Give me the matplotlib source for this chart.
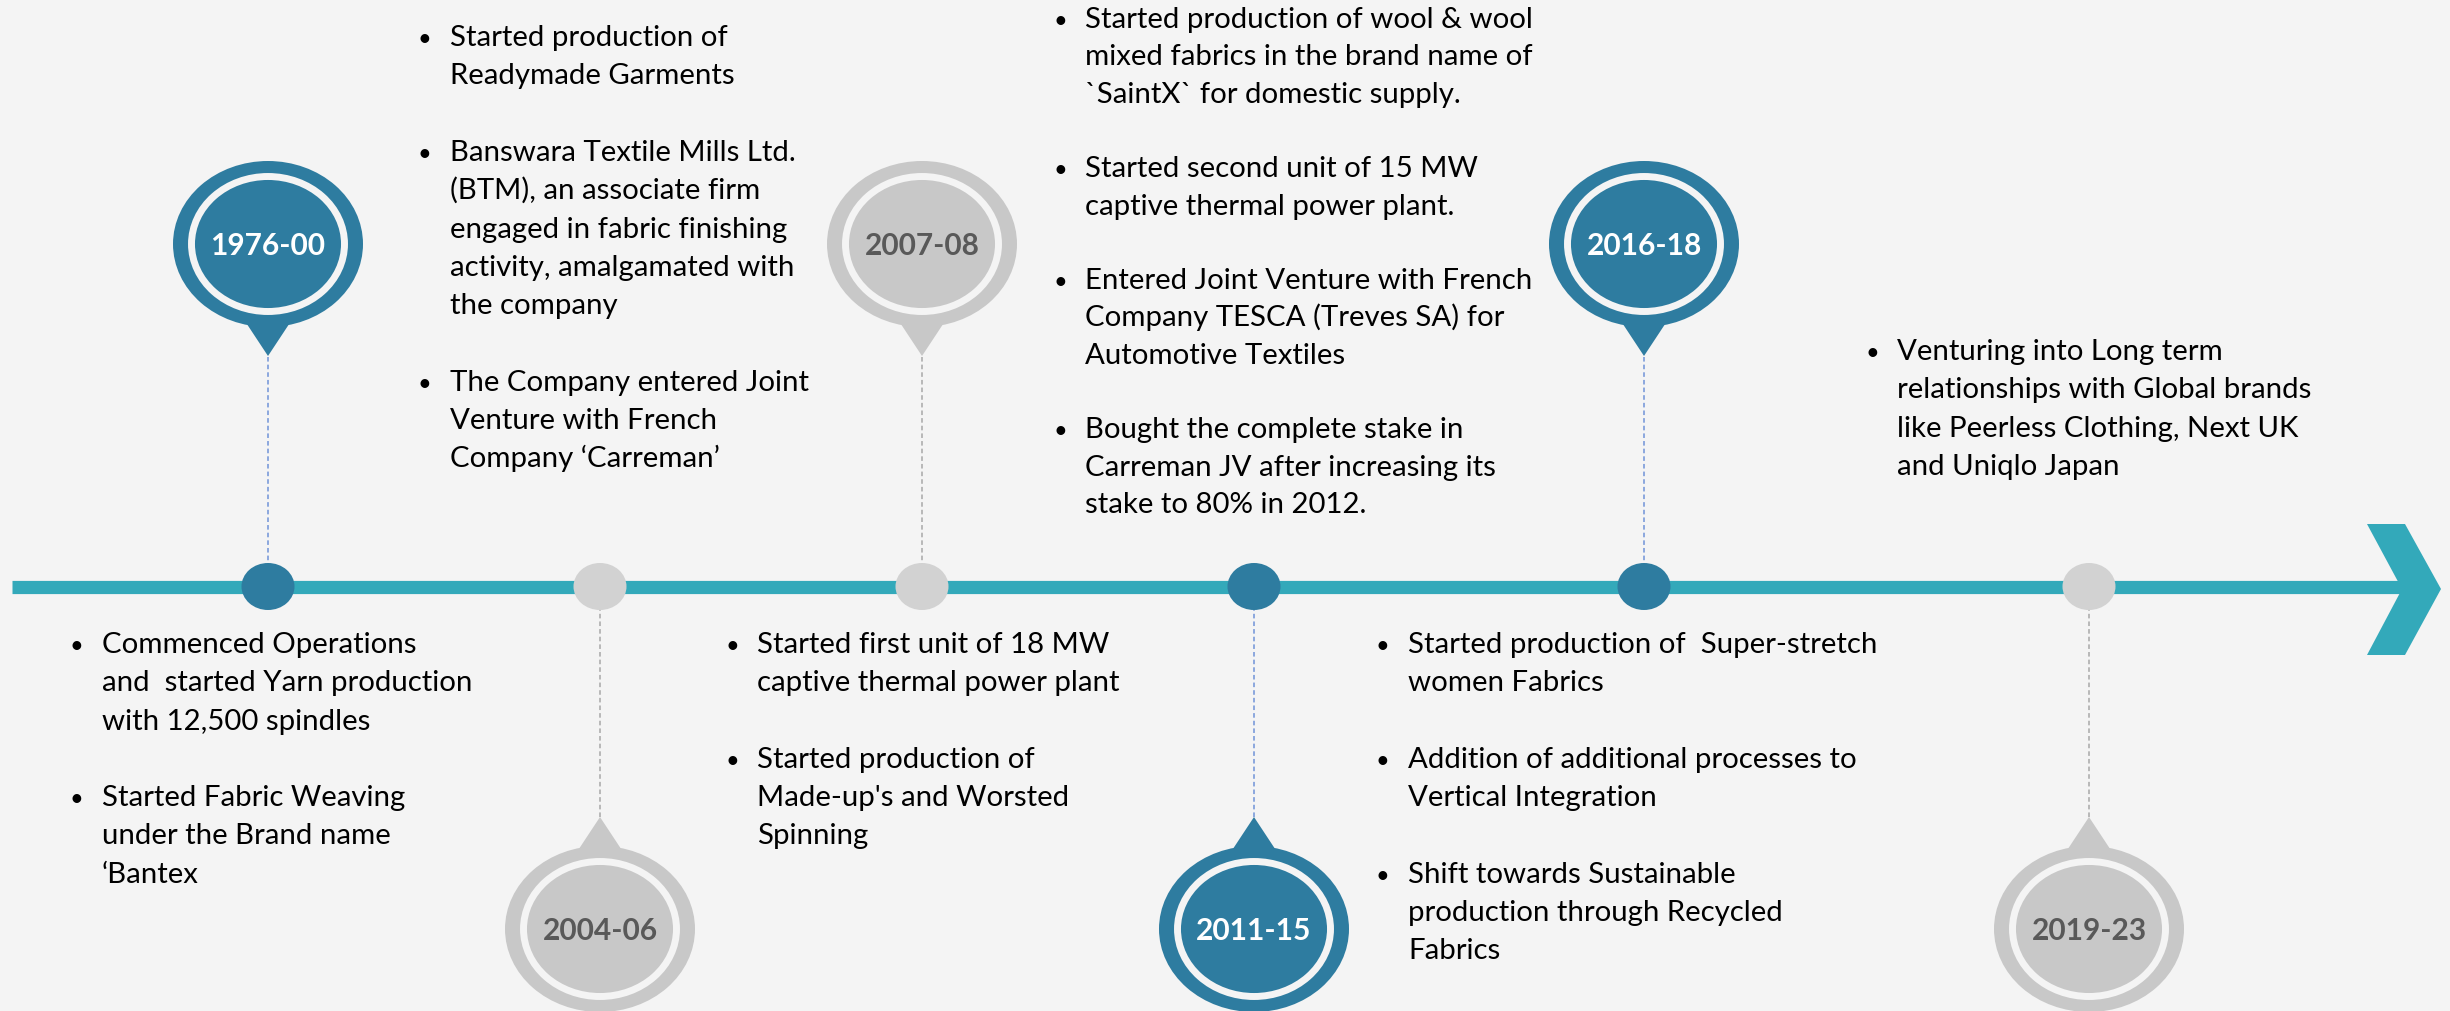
import matplotlib
matplotlib.use("Agg")
import matplotlib.pyplot as plt
from matplotlib.patches import Ellipse, Polygon

plt.rcParams['font.family'] = ['Lato', 'DejaVu Sans']

# ---- timeline data ----
periods = ['1976-00', '2004-06', '2007-08', '2011-15', '2016-18', '2019-23']
highlight = [True, False, False, True, True, False]   # blue pin or grey pin
pin_side = ['up', 'down', 'up', 'down', 'up', 'down']

# milestones per period, one list of lines per bullet (line breaks as on the slide)
events_1976 = [
    ["Commenced Operations", "and  started Yarn production", "with 12,500 spindles"],
    ["Started Fabric Weaving", "under the Brand name", "\u2018Bantex"],
]
events_2004 = [
    ["Started production of", "Readymade Garments"],
    ["Banswara Textile Mills Ltd.", "(BTM), an associate firm", "engaged in fabric finishing",
     "activity, amalgamated with", "the company"],
    ["The Company entered Joint", "Venture with French", "Company \u2018Carreman\u2019"],
]
events_2007 = [
    ["Started first unit of 18 MW", "captive thermal power plant"],
    ["Started production of", "Made-up's and Worsted", "Spinning"],
]
events_2011 = [
    ["Started production of wool & wool", "mixed fabrics in the brand name of",
     "`SaintX` for domestic supply."],
    ["Started second unit of 15 MW", "captive thermal power plant."],
    ["Entered Joint Venture with French", "Company TESCA (Treves SA) for", "Automotive Textiles"],
    ["Bought the complete stake in", "Carreman JV after increasing its", "stake to 80% in 2012."],
]
events_2016 = [
    ["Started production of  Super-stretch", "women Fabrics"],
    ["Addition of additional processes to", "Vertical Integration"],
    ["Shift towards Sustainable", "production through Recycled", "Fabrics"],
]
events_2019 = [
    ["Venturing into Long term", "relationships with Global brands",
     "like Peerless Clothing, Next UK", "and Uniqlo Japan"],
]
events = [events_1976, events_2004, events_2007, events_2011, events_2016, events_2019]

# ---- layout (pixel coordinates of the 2450x1012 canvas) ----
W, H = 2450, 1012
line_y = 587.5
pin_x = [268, 600, 922, 1254, 1644, 2089]
text_x = [102, 450, 757, 1085, 1408, 1897]
text_top = [653, 46, 653, 28, 653, 360]
text_pitch = [38.3, 38.3, 38.3, 37.3, 38.3, 38.3]

BLUE = '#2E7CA0'
GREY = '#C8C8C8'
TEAL = '#33A9BA'
BG = '#F4F4F4'

fig = plt.figure(figsize=(24.5, 10.12), dpi=100)
fig.patch.set_facecolor(BG)
ax = fig.add_axes([0, 0, 1, 1])
ax.set_xlim(0, W)
ax.set_ylim(H, 0)
ax.axis('off')
ax.set_facecolor(BG)

# connectors from pins down/up to the line
for x, side, hi in zip(pin_x, pin_side, highlight):
    tip = line_y - 230 if side == 'up' else line_y + 230
    ax.plot([x, x], [tip, line_y], color='#6F93D8' if hi else '#A8A8A8',
            lw=1.1, ls=(0, (3, 2)), zorder=1)

# main line + chevron
ax.plot([12, 2404], [line_y, line_y], color=TEAL, lw=9.5, solid_capstyle='butt', zorder=2)
ax.add_patch(Polygon([(2367, 525), (2405, 525), (2441, 590), (2405, 656),
                      (2367, 656), (2402, 590)], closed=True, fc=TEAL, ec='none', zorder=2))

# dots on the line
for x, hi in zip(pin_x, highlight):
    ax.add_patch(Ellipse((x, line_y), 53, 47, fc=BLUE if hi else '#D2D2D2', ec='none', zorder=3))

# pins
for x, side, hi, label in zip(pin_x, pin_side, highlight, periods):
    col = BLUE if hi else GREY
    if side == 'up':
        cy, s = 245, 1
    else:
        cy, s = 930, -1
    tip = cy + s * 112
    ax.add_patch(Polygon([(x, tip), (x - 33, cy + s * 62), (x + 33, cy + s * 62)],
                         closed=True, fc=col, ec='none', zorder=4))
    ax.add_patch(Ellipse((x, cy), 190, 166, fc=col, ec='none', zorder=4))
    ax.add_patch(Ellipse((x, cy), 153, 135, fc=col, ec=BG, lw=5, zorder=5))
    ax.text(x, cy + 10, label, ha='center', va='baseline', fontsize=21.5, fontweight='bold',
            color='white' if hi else '#595959', zorder=6)

# bullet text blocks
for blk, tx, ty, pitch in zip(events, text_x, text_top, text_pitch):
    row = 0
    for bullet in blk:
        ax.text(tx - 32, ty + row * pitch, '\u2022', ha='left', va='baseline',
                fontsize=17, color='#000000')
        for ln in bullet:
            ax.text(tx, ty + row * pitch, ln, ha='left', va='baseline',
                    fontsize=21.2, color='#000000')
            row += 1
        row += 1

fig.savefig('out.png', dpi=100, facecolor=BG)
